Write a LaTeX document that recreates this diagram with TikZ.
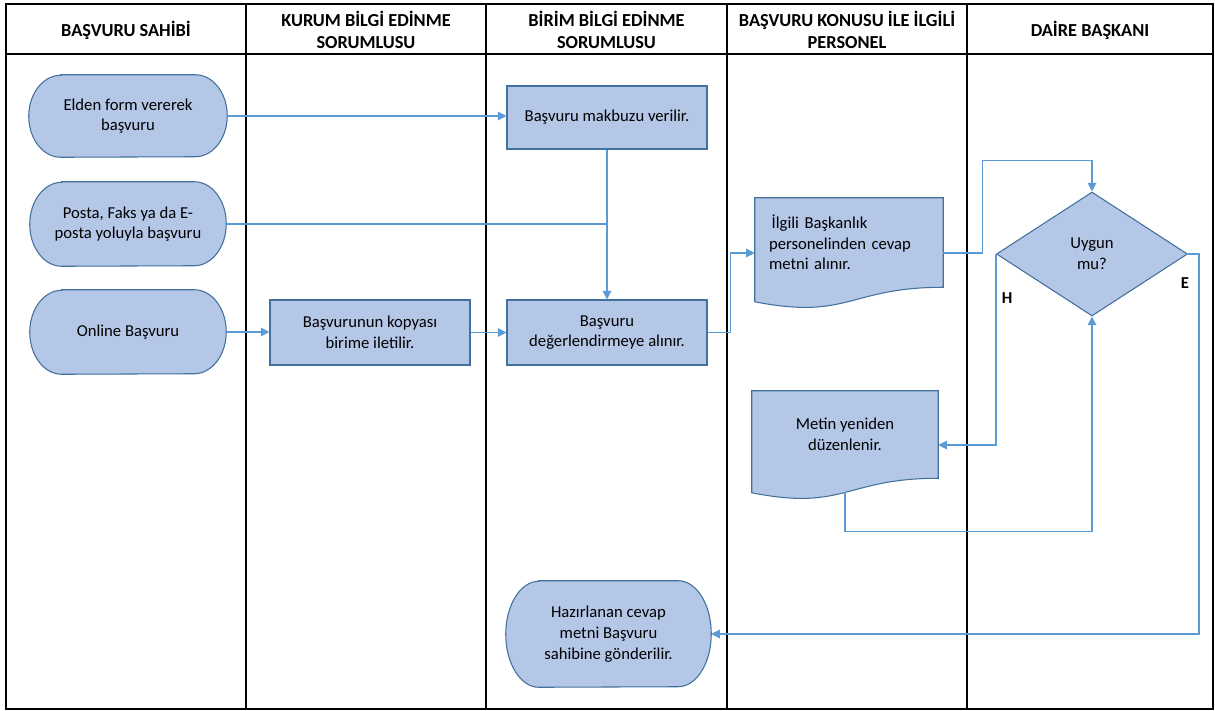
\documentclass[tikz,border=0pt]{standalone}
\usepackage{fontspec}
\setmainfont{Carlito}
\usetikzlibrary{shapes.geometric,arrows.meta,calc,backgrounds}
\definecolor{shapefill}{HTML}{B4C7E7}
\definecolor{shapeline}{HTML}{41719C}
\definecolor{connline}{HTML}{5B9BD5}
\newcommand\termpath[3]{\path[shp] ($(#1.north west)+(#2,0)$) -- ($(#1.north east)+(-#2,0)$) arc[start angle=-90,end angle=90,x radius=#2,y radius=#3] -- ($(#1.south west)+(#2,0)$) arc[start angle=90,end angle=270,x radius=#2,y radius=#3] -- cycle;}
\newcommand\docpath[1]{\path[shp] (#1.north west) -- (#1.north east) -- (#1.south east) .. controls (#1.south) and ($(#1.south)+(0,33)$) .. ($(#1.south west)+(0,14.5)$) -- cycle;}
\tikzset{
  shp/.style={draw=shapeline, fill=shapefill, line width=0.8pt},
  grid/.style={draw=black, line width=1.6pt},
  wh/.style 2 args={minimum width=#1*0.75pt, minimum height=#2*0.75pt},
  txt/.style={inner sep=0pt, align=center, font=\fontsize{12.5}{15.5}\selectfont},
  boxnode/.style={txt, shp, rectangle},
  hdr/.style={inner sep=0pt, align=center, font=\fontsize{13.75}{16.5}\selectfont\bfseries},
  conn/.style={draw=connline, line width=0.9pt},
  arr/.style={conn, -{Triangle[length=6.5pt,width=6.5pt]}},
  lbl/.style={inner sep=0pt, font=\fontsize{12.5}{15}\selectfont\bfseries}
}
\begin{document}
\begin{tikzpicture}[x=0.75pt,y=-0.75pt]
\useasboundingbox (0,0) rectangle (1215,711);
% table
\draw[grid] (6,4) rectangle (1213,709);
\draw[grid] (6,54) -- (1213,54);
\foreach \xx in {246,486,727,967} \draw[grid] (\xx,4) -- (\xx,709);
% headers
\node[hdr] (h1) at (126,30) {BAŞVURU SAHİBİ};
\node[hdr] (h2) at (366,30) {KURUM BİLGİ EDİNME\\SORUMLUSU};
\node[hdr] (h3) at (606.5,30) {BİRİM BİLGİ EDİNME\\SORUMLUSU};
\node[hdr] (h4) at (847,30) {BAŞVURU KONUSU İLE İLGİLİ\\PERSONEL};
\node[hdr] (h5) at (1090,30) {DAİRE BAŞKANI};
% terminators and documents (text)
\node[txt, wh={198}{82}] (t1) at (128,116) {Elden form vererek\\başvuru};
\node[txt, wh={196}{84}] (t2) at (128,224) {Posta, Faks ya da E-\\posta yoluyla başvuru};
\node[txt, wh={196}{84}] (t3) at (128,332) {Online Başvuru};
\node[txt, wh={205}{106}] (t4) at (608.5,634) {Hazırlanan cevap\\metni Başvuru\\sahibine gönderilir.};
\node[txt, wh={188}{89}, text width=160*0.75pt, align=left] (doc1) at (849,242.5) {\hspace*{2pt}İlgili Başkanlık\\personelinden cevap\\metni alınır.};
\node[txt, wh={186}{87}] (doc2) at (845,434.5) {Metin yeniden\\düzenlenir.};
\begin{scope}[on background layer]
\termpath{t1}{32}{41}
\termpath{t2}{32}{42}
\termpath{t3}{32}{42}
\termpath{t4}{33}{53}
\docpath{doc1}
\docpath{doc2}
\end{scope}
% process boxes
\node[boxnode, wh={200}{63}] (r1) at (607,117.5) {Başvuru makbuzu verilir.};
\node[boxnode, wh={200}{65}] (r2) at (370,332.5) {Başvurunun kopyası\\birime iletilir.};
\node[boxnode, wh={200}{65}] (r3) at (607,332.5) {Başvuru\\değerlendirmeye alınır.};
% decision
\node[txt, shp, diamond, wh={191}{124}] (dia) at (1092,254) {Uygun\\mu?};
\node[lbl] (lh) at (1007,298) {H};
\node[lbl] (le) at (1185,283) {E};
% connectors
\coordinate (d1w) at ($(doc1.west)+(0,10.5)$);
\coordinate (d1e) at ($(doc1.east)+(0,10.5)$);
\coordinate (d2e) at ($(doc2.east)+(0,10.5)$);
\coordinate (d2b) at ($(doc2.south)+(0,14.2)$);
\draw[arr] (t1.east) -- (t1.east -| r1.west);
\draw[arr] (r1.south) -- (r3.north);
\draw[conn] (t2.east) -- (t2.east -| r1.south);
\draw[arr] (t3.east) -- (t3.east -| r2.west);
\draw[arr] (r2.east) -- (r3.west);
\draw[arr] (r3.east) -- ++(23,0) |- (d1w);
\draw[arr] (d1e) -- ++(39,0) |- ($(dia.north)+(0,-31)$) -- (dia.north);
\draw[arr] (dia.west) |- (d2e);
\draw[arr] (d2b) -- ++(0,39) -| (dia.south);
\draw[arr] (dia.east) -- ++(11,0) |- (t4.east);
\end{tikzpicture}
\end{document}
